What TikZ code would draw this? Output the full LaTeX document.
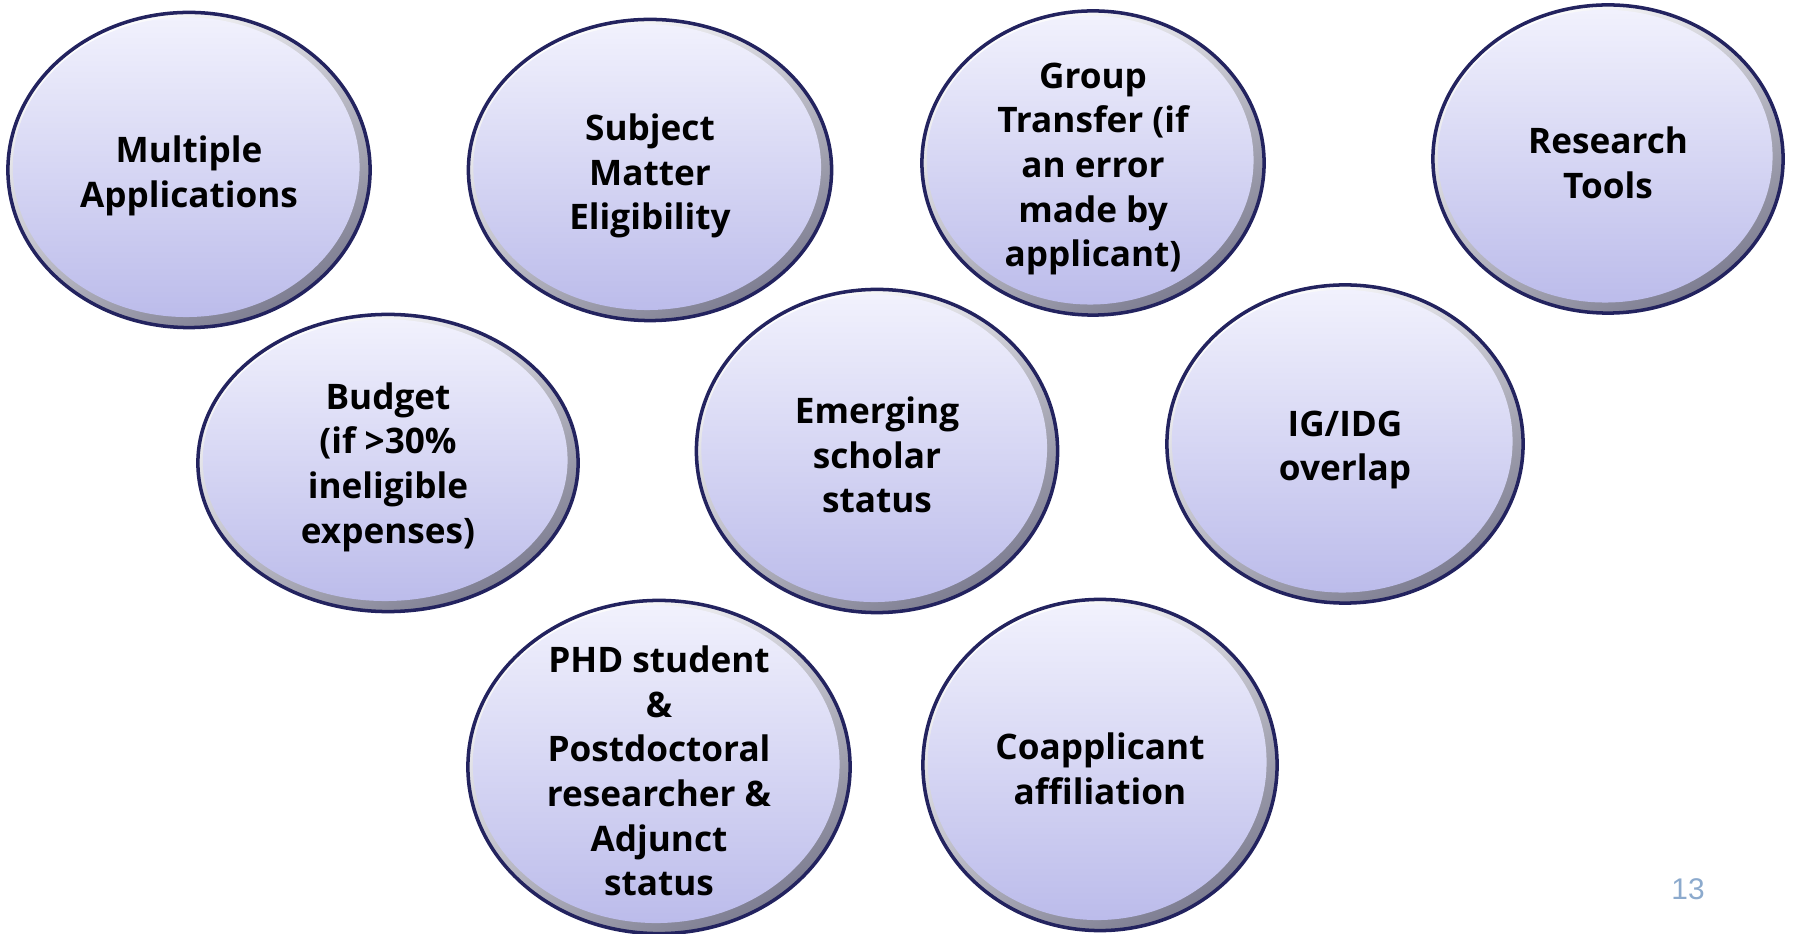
\documentclass[tikz,border=0pt]{standalone}
\usepackage{fontspec}
\setmainfont{Open Sans}
\newfontfamily\pagenofont{Liberation Sans}
\usetikzlibrary{shapes.geometric,calc}

\definecolor{bubbleline}{RGB}{35,35,95}
\definecolor{rimdark}{RGB}{125,125,145}
\definecolor{lavtop}{RGB}{242,242,253}
\definecolor{lavbot}{RGB}{186,186,234}
\definecolor{pageno}{RGB}{140,170,205}

\begin{document}
\begin{tikzpicture}[x=0.01cm,y=-0.01cm,
    bubble/.style={ellipse,draw=bubbleline,line width=1pt,inner sep=0pt,
        top color=white,bottom color=rimdark,shading angle=30,
        path picture={\shade[top color=lavtop,bottom color=lavbot]
            let \p1=(path picture bounding box.north east),
                \p2=(path picture bounding box.center) in
            (\x2-0.8pt,\y2+0.8pt) ellipse [x radius=\x1-\x2-2.2pt,y radius=\y1-\y2-2.2pt];}},
    bubbletext/.style={align=center,yshift=-0.04cm,font=\bfseries\fontsize{10}{12.7}\selectfont}]

    \useasboundingbox (0,0) rectangle (1794,934);

    % top row
    \node[bubble,minimum width=3.62cm,minimum height=3.15cm](multi)at(189,170){};
    \node[bubbletext,yshift=-0.02cm](multi-t)at(multi){Multiple\\Applications};
    \node[bubble,minimum width=3.63cm,minimum height=3.01cm](subject)at(650,170){};
    \node[bubbletext,yshift=-0.02cm](subject-t)at(subject){Subject\\Matter\\Eligibility};
    \node[bubble,minimum width=3.42cm,minimum height=3.04cm](group)at(1093,163){};
    \node[bubbletext,yshift=-0.02cm](group-t)at(group){Group\\Transfer (if\\an error\\made by\\applicant)};
    \node[bubble,minimum width=3.50cm,minimum height=3.08cm](tools)at(1608,159){};
    \node[bubbletext](tools-t)at(tools){Research\\Tools};

    % middle row
    \node[bubble,minimum width=3.80cm,minimum height=2.97cm](budget)at(388,463){};
    \node[bubbletext](budget-t)at(budget){Budget\\(if >30\%\\ineligible\\expenses)};
    \node[bubble,minimum width=3.61cm,minimum height=3.23cm](emerging)at(877,451){};
    \node[bubbletext](emerging-t)at(emerging){Emerging\\scholar\\status};
    \node[bubble,minimum width=3.56cm,minimum height=3.18cm](overlap)at(1345,444){};
    \node[bubbletext,yshift=-0.02cm](overlap-t)at(overlap){IG/IDG\\overlap};

    % bottom row
    \node[bubble,minimum width=3.82cm,minimum height=3.33cm](phd)at(659,767){};
    \node[bubbletext](phd-t)at(phd){PHD student\\\&\\Postdoctoral\\researcher \&\\Adjunct\\status};
    \node[bubble,minimum width=3.54cm,minimum height=3.31cm](coapp)at(1100,765){};
    \node[bubbletext](coapp-t)at(coapp){Coapplicant\\affiliation};

    \node[text=pageno,font=\pagenofont\fontsize{8.5}{10}\selectfont](pagenum)at(1688,889){13};

\end{tikzpicture}
\end{document}
